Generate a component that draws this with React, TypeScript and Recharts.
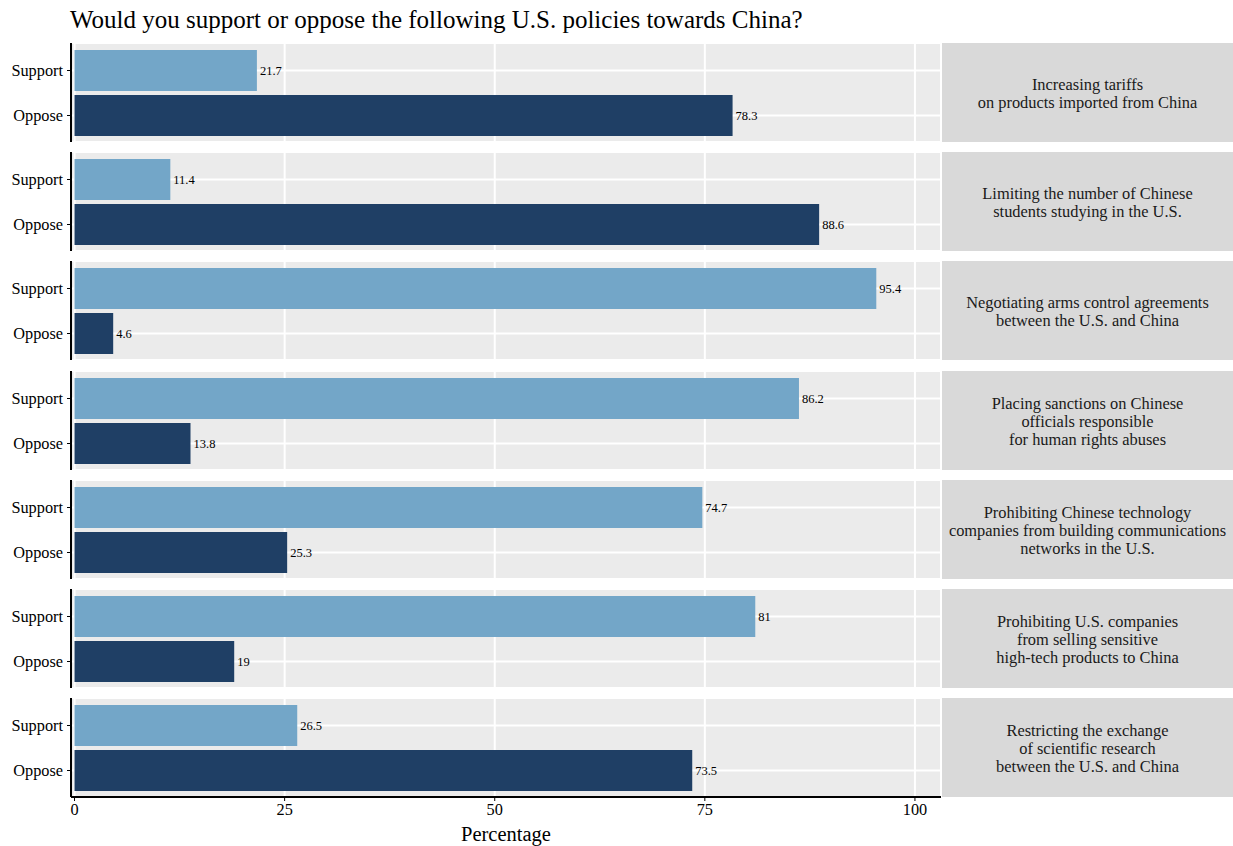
import { BarChart, Bar, XAxis, YAxis, CartesianGrid, Cell, LabelList } from 'recharts'

const policies = [
  'Increasing tariffs\non products imported from China',
  'Limiting the number of Chinese\nstudents studying in the U.S.',
  'Negotiating arms control agreements\nbetween the U.S. and China',
  'Placing sanctions on Chinese\nofficials responsible\nfor human rights abuses',
  'Prohibiting Chinese technology\ncompanies from building communications\nnetworks in the U.S.',
  'Prohibiting U.S. companies\nfrom selling sensitive\nhigh-tech products to China',
  'Restricting the exchange\nof scientific research\nbetween the U.S. and China',
]
const supportPct = [21.7, 11.4, 95.4, 86.2, 74.7, 81, 26.5]
const opposePct = [78.3, 88.6, 4.6, 13.8, 25.3, 19, 73.5]
const responses = ['Support', 'Oppose']
const responseColors = ['#73A6C8', '#1F3F65']
const xTicks = [0, 25, 50, 75, 100]

const FONT = '"Liberation Serif", "Times New Roman", serif'
const PANEL_TOP = 43
const PANEL_STEP = 109.2
const PANEL_H = 99
const CHART_W = 941
const AXIS_W = 71
const X_DOMAIN: [number, number] = [-0.42, 103.1]

function Panel({ idx }: { idx: number }) {
  const last = idx === policies.length - 1
  const data = responses.map((r, i) => ({
    resp: r,
    value: i === 0 ? supportPct[idx] : opposePct[idx],
  }))
  const axisH = last ? 26 : 0
  return (
    <div style={{ position: 'absolute', left: 0, top: PANEL_TOP + idx * PANEL_STEP }}>
      <BarChart
        width={CHART_W}
        height={PANEL_H + axisH}
        data={data}
        layout="vertical"
        margin={{ top: 0, right: 0, bottom: 0, left: 0 }}
        style={{ fontFamily: FONT }}
      >
        <CartesianGrid fill="#EBEBEB" stroke="#FFFFFF" strokeWidth={2} />
        <XAxis
          type="number"
          domain={X_DOMAIN}
          ticks={xTicks}
          allowDataOverflow
          hide={!last}
          height={axisH || 1}
          axisLine={{ stroke: '#000', strokeWidth: 2 }}
          tickLine={{ stroke: '#000' }}
          tickSize={4}
          tick={{ fontSize: 16.3, fill: '#000', fontFamily: FONT }}
        />
        <YAxis
          type="category"
          dataKey="resp"
          width={AXIS_W}
          padding={{ top: 5, bottom: 4 }}
          axisLine={{ stroke: '#000', strokeWidth: 2 }}
          tickLine={{ stroke: '#000' }}
          tickSize={4}
          tick={{ fontSize: 16.3, fill: '#000', fontFamily: FONT, dx: -2 }}
        />
        <Bar dataKey="value" barSize={41} isAnimationActive={false}>
          {data.map((d, i) => (
            <Cell key={d.resp} fill={responseColors[i]} />
          ))}
          <LabelList dataKey="value" position="right" offset={3} style={{ fontSize: 12.5, fill: '#000', fontFamily: FONT }} />
        </Bar>
      </BarChart>
      <div
        style={{
          position: 'absolute',
          left: 942,
          top: 0,
          width: 291,
          height: PANEL_H,
          boxSizing: 'border-box',
          paddingTop: 3,
          background: '#D9D9D9',
          display: 'flex',
          alignItems: 'center',
          justifyContent: 'center',
          textAlign: 'center',
          whiteSpace: 'pre-line',
          fontFamily: FONT,
          fontSize: 16.4,
          lineHeight: '18px',
          color: '#1A1A1A',
        }}
      >
        {policies[idx]}
      </div>
    </div>
  )
}

export default function App() {
  return (
    <div style={{ position: 'absolute', left: 0, top: 0, width: 1233, height: 846, background: '#fff', fontFamily: FONT, overflow: 'hidden' }}>
      <div style={{ position: 'absolute', left: 70, top: 7, fontSize: 25, lineHeight: '25px', color: '#000', whiteSpace: 'nowrap' }}>
        Would you support or oppose the following U.S. policies towards China?
      </div>
      {policies.map((_, i) => (
        <Panel key={i} idx={i} />
      ))}
      <div style={{ position: 'absolute', left: 71, width: 870, top: 824, textAlign: 'center', fontSize: 20.5, lineHeight: '21px', color: '#000' }}>
        Percentage
      </div>
    </div>
  )
}
